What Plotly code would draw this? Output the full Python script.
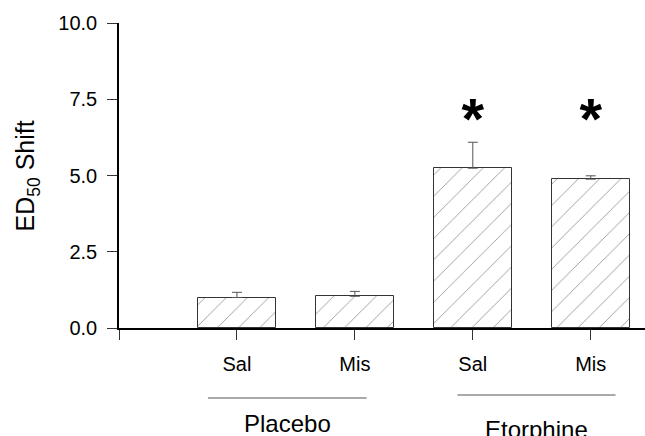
import plotly.graph_objects as go

# Group means and SEM for ED50 shift
positions = [1, 2, 3, 4]
treatments = ["Sal", "Mis", "Sal", "Mis"]
ed50_shift = [1.00, 1.04, 5.24, 4.88]
sem = [0.17, 0.16, 0.85, 0.11]
significant = [False, False, True, True]
groups = ["Placebo", "Etorphine"]
y_ticks = [0.0, 2.5, 5.0, 7.5, 10.0]

FONT = "Liberation Sans, Arial, sans-serif"

fig = go.Figure()

fig.add_trace(go.Bar(
    x=positions,
    y=ed50_shift,
    width=0.66,
    marker=dict(
        color="white",
        line=dict(color="#333333", width=1),
        pattern=dict(shape="/", size=15, solidity=0.06, fgcolor="#333333", bgcolor="white"),
    ),
    error_y=dict(type="data", array=sem, arrayminus=[0] * len(sem),
                 symmetric=False, color="#555555", thickness=1, width=5),
    showlegend=False,
))

# significance markers above the etorphine bars
star_x = [p for p, s in zip(positions, significant) if s]
fig.add_trace(go.Scatter(
    x=star_x,
    y=[6.68] * len(star_x),
    mode="text",
    text=["<b>*</b>"] * len(star_x),
    textfont=dict(family=FONT, size=58, color="black"),
    textposition="middle center",
    showlegend=False,
))

fig.update_layout(
    width=645, height=436,
    margin=dict(l=119, r=0, t=23, b=108),
    paper_bgcolor="white", plot_bgcolor="white",
    font=dict(family=FONT, size=19, color="black"),
    bargap=0,
)

fig.update_xaxes(
    range=[0, 4.46],
    tickvals=[0] + positions,
    ticktext=[""] + treatments,
    ticks="outside", ticklen=10, tickcolor="#333333", tickwidth=1,
    showline=True, linecolor="black", linewidth=1.5,
    showgrid=False, zeroline=False,
    ticklabelstandoff=7,
    tickfont=dict(size=20),
)
fig.update_yaxes(
    range=[0, 10],
    tickvals=y_ticks,
    ticktext=[f"{v:.1f}" for v in y_ticks],
    ticks="outside", ticklen=10, tickcolor="#333333", tickwidth=1,
    showline=True, linecolor="black", linewidth=1.5,
    showgrid=False, zeroline=False,
    ticklabelstandoff=6,
    tickfont=dict(size=20),
)

# axis title
fig.add_annotation(
    text="ED<sub>50</sub> Shift", xref="paper", yref="paper",
    x=-0.175, y=0.5, textangle=-90, showarrow=False,
    xanchor="center", yanchor="middle", font=dict(size=25),
)

# group brackets and labels
group_spans = [(0.754, 2.10, -0.2295), (2.87, 4.21, -0.2197)]
label_y = [-0.314, -0.333]
for name, (x0, x1, yl), ly in zip(groups, group_spans, label_y):
    fig.add_shape(type="line", xref="x", yref="paper", x0=x0, x1=x1, y0=yl, y1=yl,
                  line=dict(color="#555555", width=1))
    fig.add_annotation(text=name, xref="x", yref="paper", x=(x0 + x1) / 2, y=ly,
                       showarrow=False, xanchor="center", yanchor="middle",
                       font=dict(size=24))

fig.write_html("out.html")
